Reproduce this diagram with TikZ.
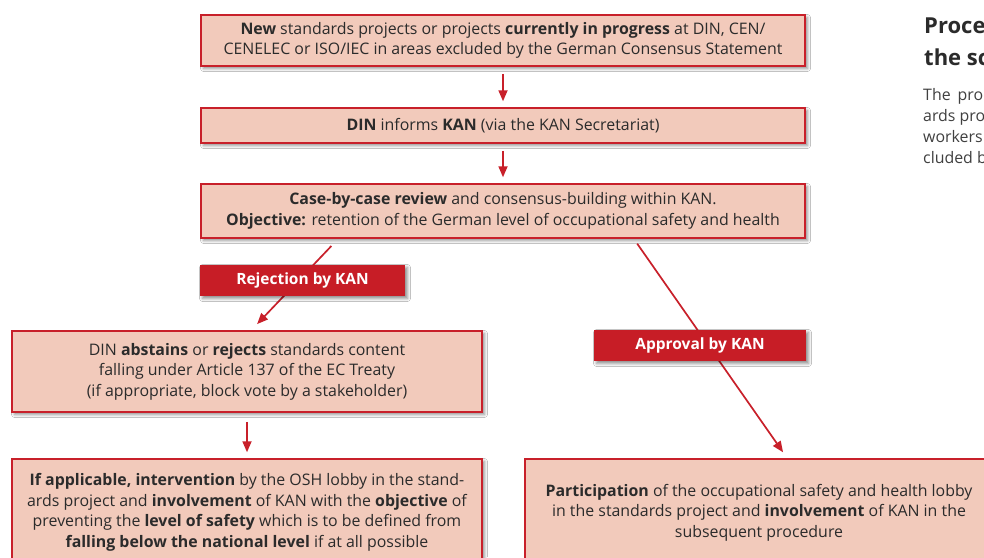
\documentclass[tikz,border=0pt]{standalone}
\usepackage{fontspec}
\setmainfont{Open Sans}
\usetikzlibrary{arrows.meta,shadows.blur,calc}

\definecolor{kanred}{HTML}{C8202A}
\definecolor{boxfill}{HTML}{F2CABB}
\definecolor{labelred}{HTML}{C71D26}
\definecolor{txt}{HTML}{2B2B2B}
\definecolor{bodytxt}{HTML}{404040}

\tikzset{
  softshadow/.style={blur shadow={shadow xshift=2.5pt, shadow yshift=-2.5pt,
      shadow blur radius=3pt, shadow opacity=45}},
  stage/.style={draw=kanred, line width=1.5pt, fill=boxfill, inner sep=0pt,
      align=center, text=txt, font=\fontsize{15.9}{20.5}\selectfont, softshadow},
  verdict/.style={fill=labelred, inner sep=0pt, text=white,
      font=\bfseries\fontsize{15.5}{17}\selectfont, softshadow},
  flow/.style={draw=kanred, line width=1.7pt, -{Triangle[length=11pt,width=9pt]}},
  headline/.style={anchor=base west, inner sep=0pt, text=txt,
      font=\bfseries\fontsize{22}{30}\selectfont},
  bodyline/.style={anchor=base west, inner sep=0pt, text=bodytxt,
      font=\fontsize{15.9}{21}\selectfont},
}

\begin{document}
\begin{tikzpicture}[x=1pt,y=-1pt]
  \useasboundingbox (0,0) rectangle (984,557);
  \fill[white] (0,0) rectangle (984,557);
  \clip (0,0) rectangle (984,557);

  % process stages
  \node[stage, minimum width=604pt, minimum height=51pt] (box1) at (503,40.5)
    {\textbf{New} standards projects or projects \textbf{currently in progress} at DIN, CEN/\\
     CENELEC or ISO/IEC in areas excluded by the German Consensus Statement};
  \node[stage, minimum width=604pt, minimum height=35pt] (box2) at (503,125.5)
    {\textbf{DIN} informs \textbf{KAN} (via the KAN Secretariat)};
  \node[stage, minimum width=604pt, minimum height=54pt] (box3) at (503,211)
    {\textbf{Case-by-case review} and consensus-building within KAN.\\
     \textbf{Objective:} retention of the German level of occupational safety and health};
  \node[stage, minimum width=470pt, minimum height=81pt] (box4) at (247,371.5)
    {DIN \textbf{abstains} or \textbf{rejects} standards content\\
     falling under Article 137 of the EC Treaty\\
     (if appropriate, block vote by a stakeholder)};
  \node[stage, minimum width=470pt, minimum height=107pt] (box5) at (247,512.5)
    {\textbf{If applicable, intervention} by the OSH lobby in the stand-\\
     ards project and \textbf{involvement} of KAN with the \textbf{objective} of\\
     preventing the \textbf{level of safety} which is to be defined from\\
     \textbf{falling below the national level} if at all possible};
  \node[stage, minimum width=468pt, minimum height=107pt] (box6) at (759,512.5)
    {\textbf{Participation} of the occupational safety and health lobby\\
     in the standards project and \textbf{involvement} of KAN in the\\
     subsequent procedure};

  % connectors
  \draw[flow, shorten <=7pt, shorten >=6pt] (box1) -- (box2);
  \draw[flow, shorten <=7pt, shorten >=6pt] (box2) -- (box3);
  \draw[flow, shorten <=9pt, shorten >=6pt] (box4.south) -- (box5.north);

  \coordinate (rejA) at ($(box3.south west)+(138,0)$);
  \coordinate (rejB) at ($(box4.north west)+(240,0)$);
  \draw[flow, shorten <=10pt, shorten >=8.5pt] (rejA) -- (rejB);

  \coordinate (apprA) at ($(box3.south west)+(433.5,0)$);
  \coordinate (apprB) at ($(box6.north west)+(263,0)$);
  \draw[flow, shorten <=6pt, shorten >=7.3pt] (apprA) -- (apprB);

  % decision labels on top of the connectors
  \node[verdict, minimum width=205pt, minimum height=31pt] (rej) at (302.5,280.5) {Rejection by KAN};
  \node[verdict, minimum width=212pt, minimum height=31pt] (appr) at (700,345.5) {Approval by KAN};

  % side column
  \node[headline] (head1) at (924,33) {Proce};
  \node[headline] (head2) at (924,65) {the sc};
  \node[bodyline] (par1) at (923,100) {The\hspace{7pt}pro};
  \node[bodyline] (par2) at (923,121) {ards pro};
  \node[bodyline] (par3) at (923,142) {workers};
  \node[bodyline] (par4) at (923,163) {cluded b};
\end{tikzpicture}
\end{document}
